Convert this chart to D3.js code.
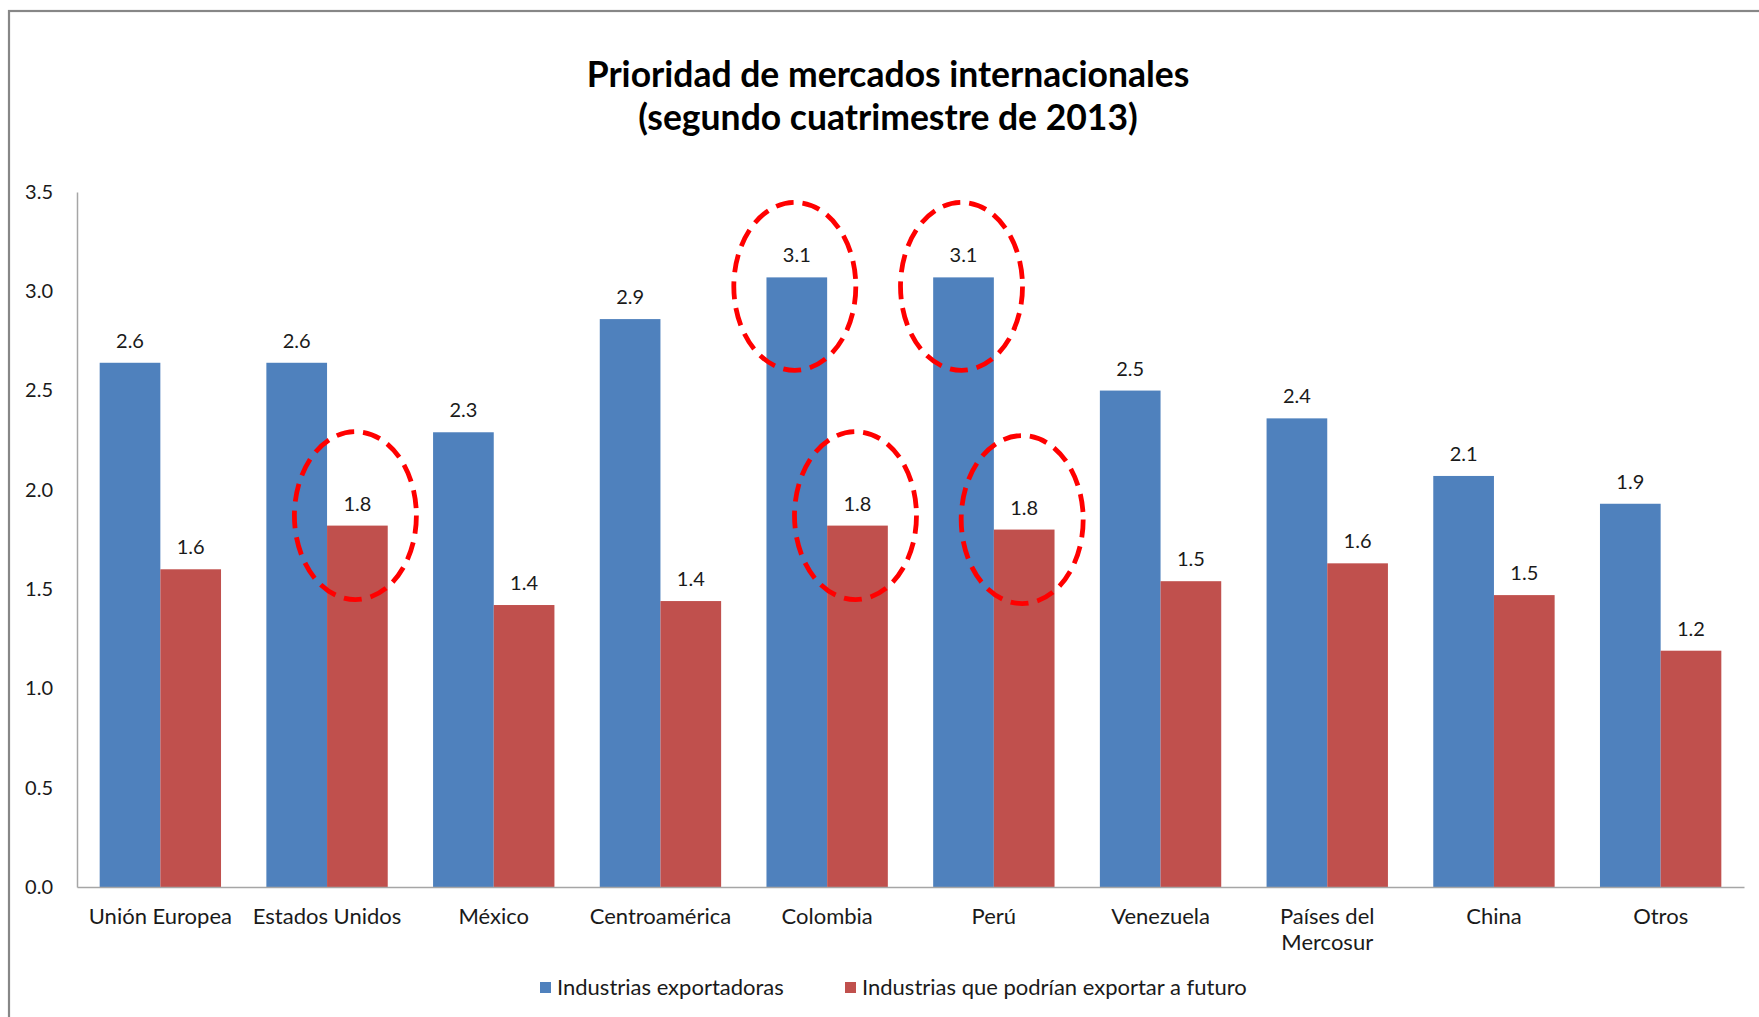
<!DOCTYPE html>
<html>
<head>
<meta charset="utf-8">
<script src="https://cdn.jsdelivr.net/npm/d3@7"></script>
<style>
  html, body { margin: 0; padding: 0; background: #fff; }
  svg { display: block; }
  text { font-family: Lato, "Open Sans", sans-serif; fill: #1a1a1a; }
</style>
</head>
<body>
<svg id="chart" width="1759" height="1017"></svg>
<script>
// ---- data ----
const titleLines = ["Prioridad de mercados internacionales", "(segundo cuatrimestre de 2013)"];
const categories = ["Unión Europea", "Estados Unidos", "México", "Centroamérica", "Colombia",
                    "Perú", "Venezuela", "Países del Mercosur", "China", "Otros"];
const seriesNames = ["Industrias exportadoras", "Industrias que podrían exportar a futuro"];
const exportadoras = [2.64, 2.64, 2.29, 2.86, 3.07, 3.07, 2.50, 2.36, 2.07, 1.93];
const futuro       = [1.60, 1.82, 1.42, 1.44, 1.82, 1.80, 1.54, 1.63, 1.47, 1.19];
const yTicks = [0, 0.5, 1.0, 1.5, 2.0, 2.5, 3.0, 3.5];
// highlighted bars (dashed circles): [category, series index]
const highlights = [["Estados Unidos", 1], ["Colombia", 0], ["Colombia", 1], ["Perú", 0], ["Perú", 1]];

const seriesValues = [exportadoras, futuro];
const colors = ["#4F81BD", "#C0504D"];

// ---- layout ----
const svg = d3.select("#chart");
const W = 1759, H = 1017;
const plot = { left: 77, right: 1744, top: 192, bottom: 887 };
const labelFont = "22px", numFont = "20px";

// outer chart border (only top and left edges fall inside the image)
svg.append("rect")
  .attr("x", 9).attr("y", 11).attr("width", W + 50).attr("height", H + 50)
  .attr("fill", "none").attr("stroke", "#878787").attr("stroke-width", 2.2);

// title
svg.append("text")
  .attr("x", 888).attr("y", 87)
  .attr("text-anchor", "middle")
  .style("font-weight", "bold").style("font-size", "35.5px").style("fill", "#000")
  .selectAll("tspan").data(titleLines).join("tspan")
  .attr("x", 888).attr("dy", (d, i) => i === 0 ? 0 : 43)
  .text(d => d);

const x = d3.scaleBand().domain(categories).range([plot.left, plot.right])
  .paddingInner(0.272).paddingOuter(0.136);
const xs = d3.scaleBand().domain([0, 1]).range([0, x.bandwidth()]);
const y = d3.scaleLinear().domain([0, 3.5]).range([plot.bottom, plot.top]);

// y axis
const yAxis = svg.append("g").attr("transform", `translate(${plot.left},0)`)
  .call(d3.axisLeft(y).tickValues(yTicks).tickFormat(d3.format(".1f")).tickSize(0).tickPadding(24));
yAxis.select(".domain").attr("stroke", "#a6a6a6").attr("stroke-width", 1.5);
yAxis.selectAll("text").style("font-size", numFont).style("font-family", "Lato, sans-serif").attr("fill", "#1a1a1a");

// bars
const groups = svg.append("g").selectAll("g").data(categories).join("g")
  .attr("transform", d => `translate(${x(d)},0)`);

groups.selectAll("rect").data((c, i) => seriesValues.map((vals, s) => ({ s, v: vals[i] })))
  .join("rect")
  .attr("x", d => xs(d.s)).attr("width", xs.bandwidth())
  .attr("y", d => y(d.v)).attr("height", d => y(0) - y(d.v))
  .attr("fill", d => colors[d.s]);

groups.selectAll("text.lbl").data((c, i) => seriesValues.map((vals, s) => ({ s, v: vals[i] })))
  .join("text").attr("class", "lbl")
  .attr("x", d => xs(d.s) + xs.bandwidth() / 2)
  .attr("y", d => y(d.v) - 15)
  .attr("text-anchor", "middle")
  .style("font-size", numFont)
  .text(d => d3.format(".1f")(d.v));

// x axis
const xAxis = svg.append("g").attr("transform", `translate(0,${plot.bottom})`)
  .call(d3.axisBottom(x).tickSize(0).tickPadding(0));
xAxis.select(".domain").attr("stroke", "#a6a6a6").attr("stroke-width", 1.5);
xAxis.selectAll("text").text(null).attr("dy", null).attr("y", 37)
  .style("font-size", labelFont).attr("fill", "#1a1a1a")
  .each(function (d) {
    const t = d3.select(this);
    const words = d.split(" ");
    const lines = [];
    let cur = "";
    const probe = svg.append("text").style("font-size", labelFont);
    words.forEach(w => {
      const test = cur ? cur + " " + w : w;
      probe.text(test);
      if (probe.node().getComputedTextLength() > x.step() * 0.98 && cur) { lines.push(cur); cur = w; }
      else cur = test;
    });
    lines.push(cur);
    probe.remove();
    lines.forEach((ln, i) => t.append("tspan").attr("x", 0).attr("dy", i === 0 ? 0 : 26).text(ln));
  });

// dashed highlight ellipses
const hlOffset = [9, -10];
svg.append("g").selectAll("ellipse").data(highlights).join("ellipse")
  .attr("cx", d => x(d[0]) + xs(d[1]) + xs.bandwidth() / 2 - 2)
  .attr("cy", d => y(seriesValues[d[1]][categories.indexOf(d[0])]) + hlOffset[d[1]])
  .attr("rx", 61).attr("ry", 84)
  .attr("fill", "none").attr("stroke", "#FF0000").attr("stroke-width", 4.8)
  .attr("stroke-dasharray", "18,9");

// legend
const legendItems = [{ x: 540 }, { x: 845 }];
const lg = svg.append("g").selectAll("g").data(seriesNames).join("g")
  .attr("transform", (d, i) => `translate(${legendItems[i].x},982)`);
lg.append("rect").attr("width", 11).attr("height", 11).attr("fill", (d, i) => colors[i]);
lg.append("text").attr("x", 17).attr("y", 13).style("font-size", labelFont).text(d => d);
</script>
</body>
</html>
